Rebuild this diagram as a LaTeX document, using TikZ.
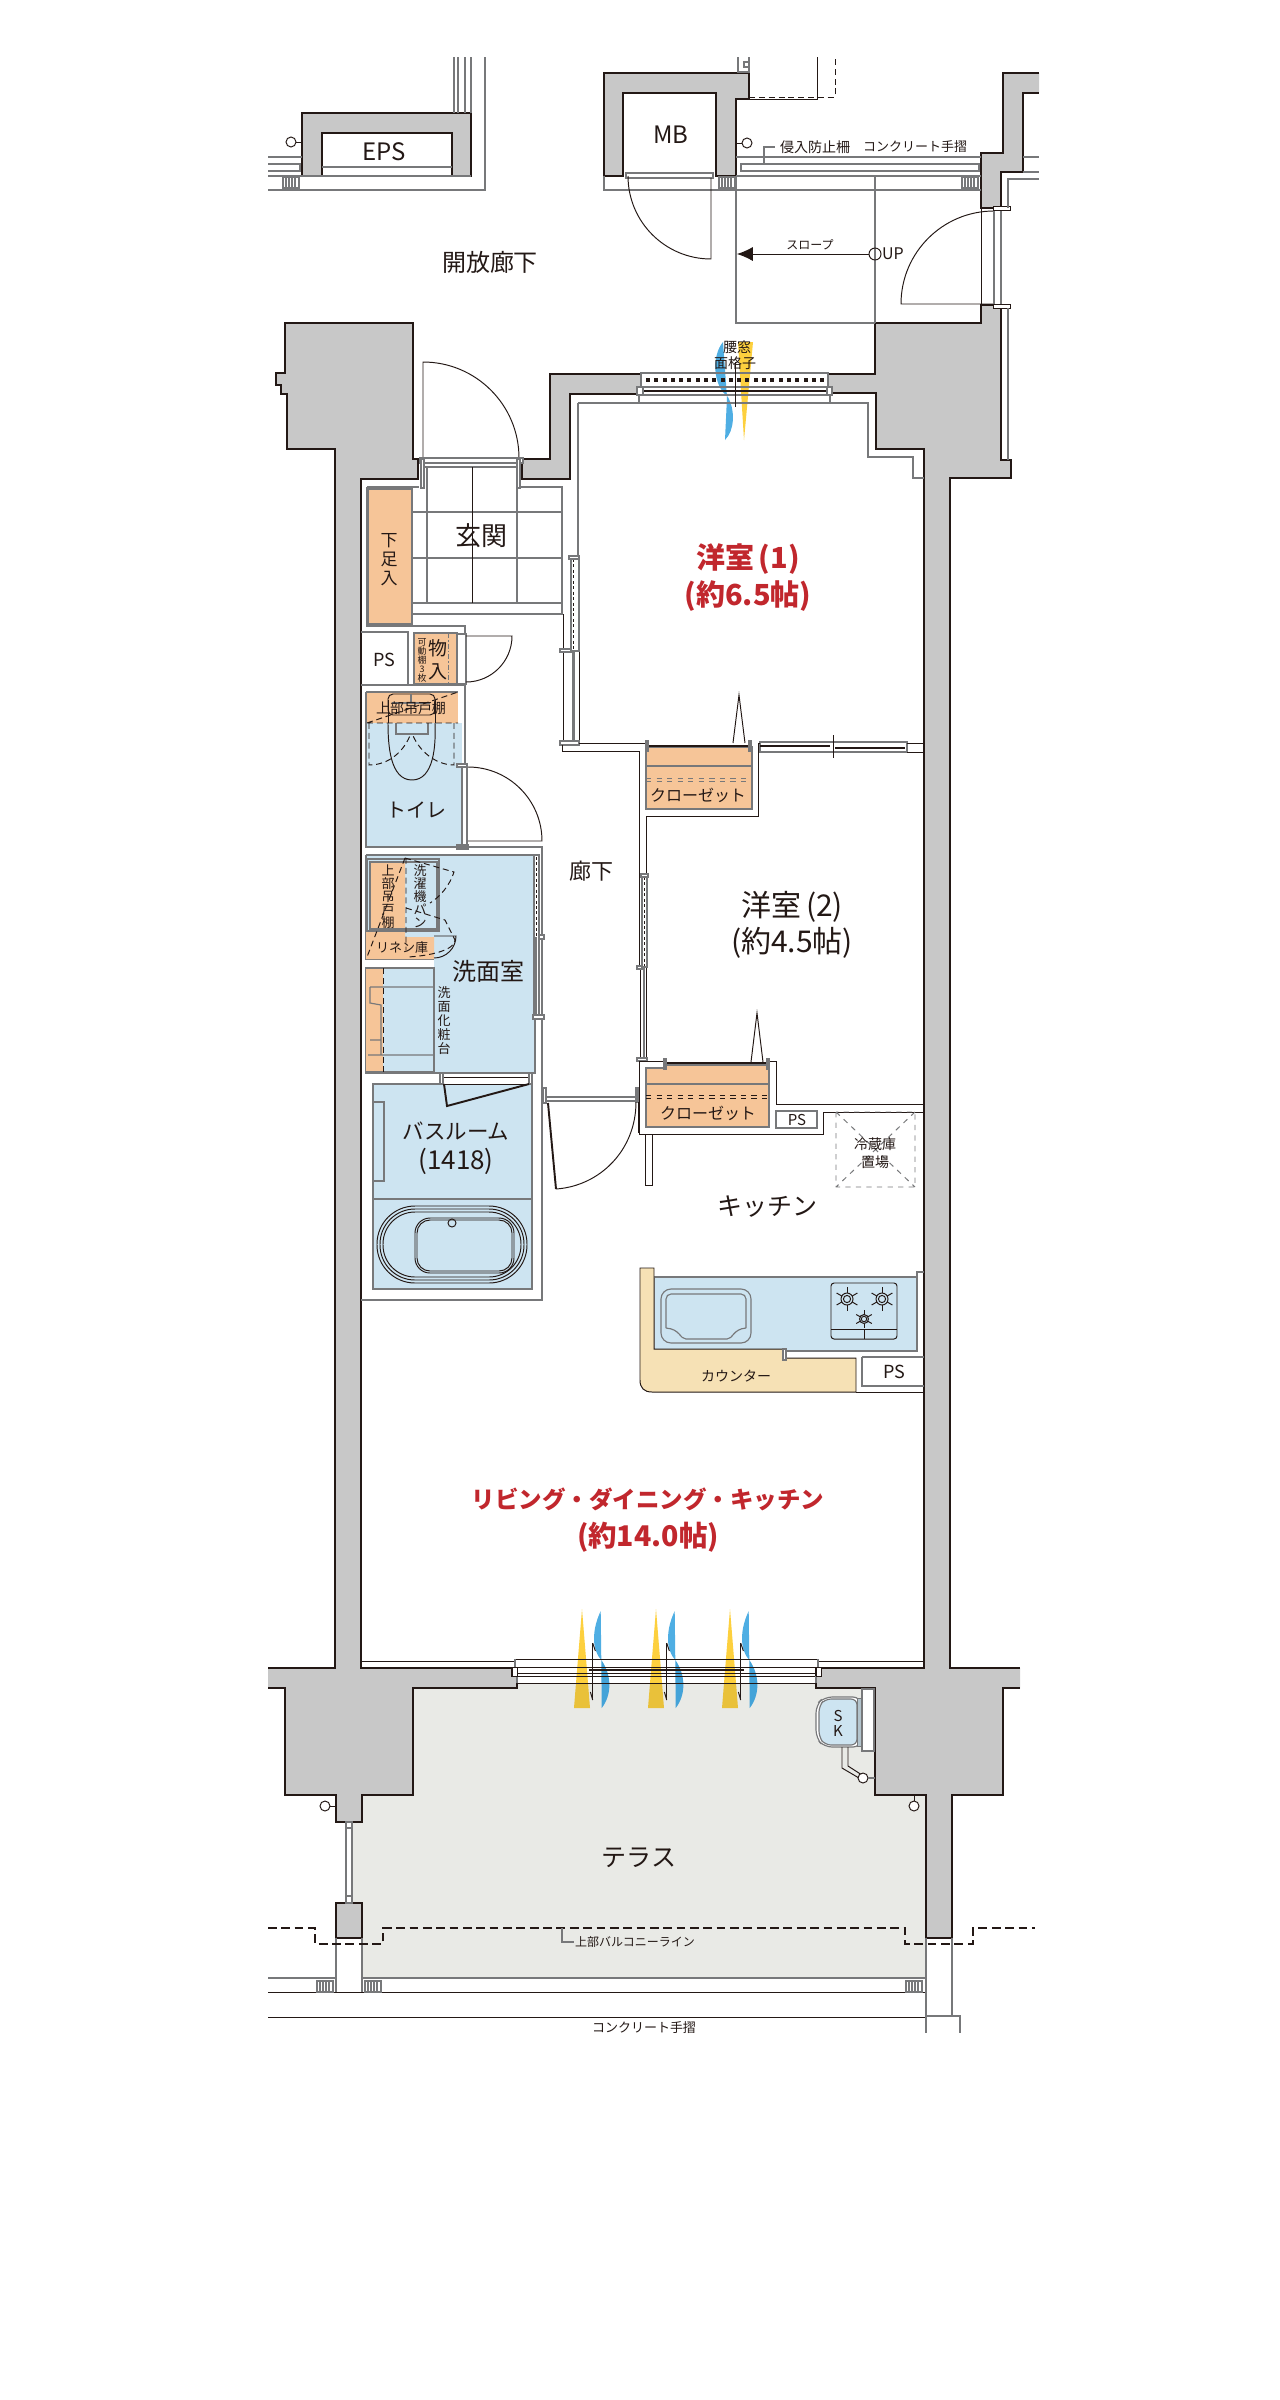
\documentclass[tikz,border=0pt]{standalone}
\usepackage{fontspec}
\setmainfont{Noto Sans CJK JP}
\usetikzlibrary{arrows.meta}
\definecolor{ink}{HTML}{231815}
\definecolor{wallgray}{HTML}{C8C8C8}
\definecolor{midgray}{HTML}{77787A}
\definecolor{wetblue}{HTML}{CDE4F1}
\definecolor{shelforange}{HTML}{F6C598}
\definecolor{counterpeach}{HTML}{F6E1B5}
\definecolor{terracegray}{HTML}{E9EAE6}
\definecolor{roomred}{HTML}{C1272D}
\definecolor{ventyellow}{HTML}{FDD03E}
\definecolor{ventyellowlow}{HTML}{E9C13A}
\definecolor{ventblue}{HTML}{4FAEE3}
\definecolor{ventbluelow}{HTML}{44A3D8}
\newcommand{\pxf}[2]{\fontsize{\fpeval{0.569*#1}}{\fpeval{0.569*#2}}\selectfont}
\tikzset{
	wall/.style={draw=ink, fill=wallgray, line width=1.3pt, line join=miter},
	wallside/.style={draw=ink, line width=1.3pt, line join=miter},
	heavy/.style={draw=ink, line width=1.1pt},
	fine/.style={draw=ink, line width=0.55pt},
	soft/.style={draw=midgray, line width=0.65pt},
	hidden/.style={draw=ink, line width=0.55pt, dash pattern=on 3.4pt off 2.2pt},
	balcline/.style={draw=ink, line width=0.6pt, dash pattern=on 5pt off 2.6pt},
	knob/.style={circle, draw=ink, fill=white, line width=0.55pt, minimum size=0.2cm, inner sep=0pt},
}
\newcommand{\railpost}[2]{%
	\draw[soft, fill=white] (#1,#2) rectangle ++(16,11);
	\foreach \k in {3,6,9,12}{\draw[soft] (#1+\k,#2) -- ++(0,11);}
}
\newcommand{\burner}[3]{%
	\draw[fine] (#1,#2) circle (#3*0.5) (#1,#2) circle (#3*0.3);
	\foreach \a in {30,90,150,210,270,330}{\draw[fine] ([shift={(#1,#2)}]\a:#3*0.5) -- ([shift={(#1,#2)}]\a:#3);}
}
\newcommand{\windmark}[1]{%
	\fill[ventyellow] (#1,1609) -- (#1-6,1683) -- (#1+6,1683) -- cycle;
	\fill[ventyellowlow] (#1-6,1683) -- (#1-8,1708) -- (#1+8,1708) -- (#1+6,1683) -- cycle;
	\fill[ventblue] (#1+18.7,1611) .. controls (#1+9.7,1630) and (#1+9.7,1650) .. (#1+19.3,1660) -- cycle;
	\fill[ventbluelow] (#1+19.3,1660) .. controls (#1+30,1675) and (#1+30,1695) .. (#1+19.7,1708) -- cycle;
}
\newcommand{\windmullion}[1]{%
	\draw[fine] (#1+10.7,1643) -- (#1+10.7,1700);
	\draw[fine] (#1+10.7,1643) -- (#1+13.4,1651) (#1+10.7,1700) -- (#1+8.4,1692);
}
\begin{document}
\begin{tikzpicture}[x=0.02cm, y=-0.02cm]
	\useasboundingbox[fill=white] (0,0) rectangle (1280,2400);

	\fill[terracegray] (517,1683) -- (816,1683) -- (816,1688) -- (875,1688) -- (875,1795) -- (926,1795) -- (926,1978) -- (362,1978) -- (362,1903) -- (352,1903) -- (352,1822) -- (362,1822) -- (362,1795) -- (413,1795) -- (413,1688) -- (517,1688) -- cycle;

	\fill[ventyellow] (738,342) -- (753,342) -- (744,440) -- cycle;
	\fill[ventblue] (723,342) .. controls (712,355) and (712,385) .. (728,397) .. controls (735,410) and (735,430) .. (725,440) -- (727,397) -- cycle;
	\foreach \vx in {582,656,730}{\windmark{\vx}}

	\draw[wall] (268,1668) -- (335,1668) -- (335,449) -- (287,449) -- (287,394) -- (281,394) -- (281,385) -- (276,385) -- (276,373) -- (285,373) -- (285,323) -- (413,323) -- (413,459) -- (418,459) -- (418,479) -- (361,479) -- (361,1668) -- (512,1668) -- (512,1676) -- (517,1676) -- (517,1688) -- (413,1688) -- (413,1795) -- (362,1795) -- (362,1822) -- (336,1822) -- (336,1795) -- (285,1795) -- (285,1688) -- (268,1688);
	\draw[wall] (641,394) -- (570,394) -- (570,479) -- (522,479) -- (522,459) -- (550,459) -- (550,374) -- (641,374);
	\fill[wallgray] (828,374) -- (875,374) -- (875,323) -- (981,323) -- (981,305) -- (1001,305) -- (1001,460) -- (1011,460) -- (1011,478) -- (950,478) -- (950,1668) -- (1020,1668) -- (1020,1688) -- (1003,1688) -- (1003,1795) -- (952,1795) -- (952,1938) -- (926,1938) -- (926,1795) -- (875,1795) -- (875,1688) -- (816,1688) -- (816,1668) -- (924,1668) -- (924,449) -- (876,449) -- (876,393) -- (828,393) -- cycle;
	\draw[wallside] (828,374) -- (875,374) -- (875,323) -- (981,323) -- (981,305) -- (1001,305) -- (1001,460) -- (1011,460) -- (1011,478) -- (950,478) -- (950,1668) -- (1020,1668);
	\draw[wallside] (1020,1688) -- (1003,1688) -- (1003,1795) -- (952,1795) -- (952,1938) -- (926,1938) -- (926,1795) -- (875,1795) -- (875,1688) -- (816,1688) -- (816,1668) -- (924,1668) -- (924,449) -- (876,449) -- (876,393) -- (828,393);
	\draw[wall] (1039,73) -- (1003,73) -- (1003,153) -- (981,153) -- (981,208) -- (1001,208) -- (1001,172) -- (1023,172) -- (1023,93) -- (1039,93);
	\draw[wall] (336,1903) rectangle (362,1938);
	\draw[wall] (302,176) -- (302,113) -- (471,113) -- (471,176) -- (452,176) -- (452,133) -- (322,133) -- (322,176) -- cycle;
	\draw[wall] (604,73) -- (749,73) -- (749,99) -- (736,99) -- (736,176) -- (716,176) -- (716,93) -- (623,93) -- (623,176) -- (604,176) -- cycle;

	\draw[soft] (454,57) -- (454,113) (458,57) -- (458,113) (465,57) -- (465,113);
	\draw[soft] (471,57) -- (471,113) (485,57) -- (485,190) -- (268,190);
	\draw[soft] (268,157) -- (302,157) (268,164) -- (300,164) -- (300,171) -- (268,171) (268,176) -- (471,176) (322,167) -- (452,167);
	\railpost{283}{177}
	\draw[soft] (738,57) -- (738,72) -- (749,72) -- (749,57) (744,62) rectangle (749,67);
	\draw[fine] (749,99) -- (817,99) -- (817,57);
	\draw[hidden] (749,97) -- (835,97) -- (835,57);
	\draw[soft] (604,176) -- (604,190) -- (981,190);
	\draw[soft] (736,157) -- (981,157) (741,164) rectangle (979,171) (736,176) -- (981,176);
	\railpost{719}{177}
	\railpost{962}{177}
	\draw[soft] (875,176) -- (875,323);
	\draw[soft] (736,176) -- (736,323) -- (875,323);
	\draw[soft, fill=white] (626,173) rectangle (713,178);
	\draw[fine] (711,178) -- (711,259) arc[start angle=90, end angle=180, radius=83];

	\node[knob] (knobeps) at (291,142) {};
	\node[knob] (knobmb) at (747,143) {};
	\coordinate (epsstub) at (302,142);
	\coordinate (mbstub) at (736,143);
	\draw[fine] (knobeps) -- (epsstub);
	\draw[fine] (knobmb) -- (mbstub);
	\node[knob, minimum size=0.24cm, fill=none] (rampup) at (875,254) {};
	\coordinate (rampdown) at (737,254);
	\draw[fine, -{Latex[length=9pt, width=8pt]}] (rampup) -- (rampdown);
	\coordinate (fenceend) at (775,147);
	\draw[soft] (764,164) -- (764,147) -- (fenceend);

	\draw[fine] (981,208) -- (981,305);
	\draw[heavy] (981,305) -- (994,305) (981,208) -- (994,208);
	\draw[fine] (994,304) -- (901,304) arc[start angle=180, end angle=270, radius=93];
	\draw[soft, fill=white] (994,207) rectangle (1001,308);
	\draw[fine, fill=white] (993,206) rectangle (1010,210) (993,304) rectangle (1010,308);
	\draw[soft] (1008,208) -- (1008,179) -- (1039,179) (1023,157) -- (1039,157) (1023,172) -- (1039,172) (1008,308) -- (1008,460);

	\draw[fine] (423,458) -- (423,362) arc[start angle=-90, end angle=0, radius=96];
	\draw[soft, fill=white] (420,458) rectangle (523,463);
	\draw[soft] (423,463) -- (423,467) -- (518,467) -- (518,463);
	\draw[soft, fill=white] (421,459) rectangle (424,488) (517,459) rectangle (520,488);

	\draw[soft] (578,403) -- (578,557) (578,403) -- (641,403) (828,403) -- (868,403) -- (868,457) -- (913,457) -- (913,478) -- (924,478);
	\draw[soft] (367,487) -- (419,487) (520,487) -- (562,487) -- (562,614) -- (412,614);
	\draw[soft] (427,467) -- (427,603) (517,467) -- (517,603) (412,512) -- (562,512) (412,558) -- (562,558) (412,603) -- (562,603);
	\draw[fine] (472,467) -- (472,603);
	\draw[soft, fill=shelforange, line width=1.1pt] (368,489) rectangle (412,624);
	\draw[soft] (367,487) -- (367,626) -- (465,626) -- (465,847) (361,632) -- (408,632) -- (408,685) -- (361,685);
	\draw[soft, fill=shelforange] (414,633) rectangle (457,684);
	\draw[midgray, line width=0.5pt, dash pattern=on 3pt off 1pt on 1pt off 1pt] (448,633) -- (448,684);
	\draw[soft, fill=white] (457,634) rectangle (466,684);
	\draw[fine] (466,636) -- (512,636) arc[start angle=0, end angle=90, radius=46];
	\draw[soft] (361,685) -- (465,685);

	\fill[shelforange] (366,692) rectangle (458,723);
	\fill[wetblue] (366,723) rectangle (462,847);
	\draw[soft] (366,692) -- (458,692) (366,692) -- (366,847) -- (462,847) -- (462,765);
	\draw[fine] (388,723) .. controls (388,745) and (390,780) .. (412,780) .. controls (434,780) and (436,745) .. (435,723);
	\draw[fine] (388,700) -- (388,723) (435,700) -- (435,723);
	\draw[fine, rounded corners=0.1cm] (388,715) -- (388,694) -- (435,694) -- (435,715) -- cycle;
	\draw[soft] (396,723) -- (396,734) -- (428,734) -- (428,723) (411,694) -- (411,703) (392,703) -- (430,703);
	\draw[hidden] (367,723) -- (458,692) (367,723) -- (458,723) (369,723) -- (369,765) .. controls (390,765) and (405,750) .. (411,733) (454,723) -- (454,765) .. controls (435,765) and (418,750) .. (412,733);
	\draw[soft, fill=white] (462,766) rectangle (467,847);
	\draw[soft, fill=white] (457,764) rectangle (467,767) (457,845) rectangle (468,849);
	\draw[fine] (468,767) arc[start angle=-90, end angle=0, radius=74] -- (468,841);

	\draw[soft] (366,847) -- (542,847) -- (542,1300) -- (361,1300);
	\fill[wetblue] (366,855) rectangle (535,1073);
	\fill[white] (366,959) rectangle (434,968);
	\draw[soft] (366,855) -- (535,855) -- (535,1073) -- (366,1073) -- (366,968) -- (434,968) -- (434,1073);
	\draw[soft] (366,855) -- (366,959) -- (434,959);
	\fill[shelforange] (366,931) rectangle (405,937) (370,862) rectangle (405,929) (366,937) rectangle (434,959);
	\draw[soft, line width=1pt] (367,859) rectangle (439,931);
	\draw[soft] (370,862) rectangle (437,929);
	\draw[fine] (434,936) -- (456,936) arc[start angle=0, end angle=90, radius=22];
	\draw[hidden] (406,858) -- (406,950) (405,858) -- (367,957) (405,858) -- (454,872) .. controls (450,885) and (440,897) .. (430,903) (406,908) -- (445,920) -- (455,940) .. controls (455,950) and (430,956) .. (407,957);
	\fill[shelforange] (366,968) rectangle (383,1072);
	\draw[midgray, line width=1pt] (366,968) -- (434,968) (366,1072) -- (434,1072);
	\draw[hidden] (383,968) -- (383,1072);
	\draw[soft] (370,987) -- (433,987) (368,1055) -- (433,1055) (370,987) -- (370,1003) -- (381,1005) -- (381,1055) (370,1040) -- (381,1040);
	\draw[soft, fill=white] (534,855) rectangle (539,1018);
	\draw[ink, line width=0.8pt, dash pattern=on 1.7pt off 1.4pt] (536.5,857) -- (536.5,937);
	\draw[midgray, line width=1.6pt] (535.5,937) -- (535.5,1017);
	\draw[soft, fill=white] (539,935) rectangle (544,939) (533,1015) rectangle (544,1019);

	\draw[soft, fill=wetblue] (373,1084) rectangle (532,1289);
	\draw[soft] (373,1199) -- (532,1199) (373,1102) rectangle (384,1181);
	\draw[fine, fill=white] (442,1077) rectangle (532,1084);
	\draw[soft, fill=white] (440,1073) rectangle (443,1084) (529,1073) rectangle (532,1084);
	\draw[heavy] (444,1084) -- (447,1106) -- (529,1084);
	\draw[fine, rounded corners=0.76cm] (377,1206) rectangle (527,1283);
	\draw[fine, rounded corners=0.7cm] (380,1209) rectangle (524,1280);
	\draw[fine, rounded corners=0.64cm] (383,1212) rectangle (521,1277);
	\draw[fine, rounded corners=0.3cm] (415,1218) rectangle (514,1273);
	\draw[fine, rounded corners=0.26cm] (417,1220) rectangle (512,1271);
	\draw[fine] (452,1223) circle (4);

	\draw[fine] (563,614) -- (563,741);
	\draw[soft, fill=white] (571,557) rectangle (579,651);
	\draw[ink, line width=0.8pt, dash pattern=on 1.7pt off 1.4pt] (573.5,559) -- (573.5,650);
	\draw[soft, fill=white] (569,556) rectangle (579,559) (560,649) rectangle (571,652);
	\draw[midgray, line width=1.6pt] (573.5,652) -- (573.5,741);
	\draw[fine] (579,652) -- (579,741);
	\draw[soft, fill=white] (560,741) rectangle (579,745);

	\draw[fine] (579,743) -- (646,743) (562,745) -- (562,751) -- (639,751) -- (639,875) (758,743) -- (758,816) -- (646,816) -- (646,875);
	\draw[soft, fill=shelforange] (646,747) rectangle (752,809);
	\draw[soft] (646,766) -- (752,766);
	\draw[midgray, dashed, line width=0.5pt] (646,778) -- (752,778) (646,781) -- (752,781);
	\draw[fine] (733,743) -- (739,695) -- (745,743);
	\draw[heavy] (647,746) -- (750,746);
	\draw[soft, fill=white] (646,741) rectangle (648,751) (749,741) rectangle (751,751);
	\draw[soft, fill=white] (760,742) rectangle (907,752);
	\draw[heavy] (760,746) -- (830,746) (835,748) -- (905,748);
	\draw[fine] (833,735) -- (833,758);
	\draw[fine] (907,743) -- (924,743) (907,752) -- (924,752) (758,743) -- (760,743);

	\draw[fine] (639,875) -- (639,967) (646,875) -- (646,1059);
	\draw[soft, fill=white] (642,875) rectangle (647,967);
	\draw[ink, line width=0.8pt, dash pattern=on 1.7pt off 1.4pt] (644.5,877) -- (644.5,966);
	\draw[midgray, line width=1.6pt] (644,968) -- (644,1059);
	\draw[fine] (640,968) -- (640,1059);
	\draw[soft, fill=white] (641,874) rectangle (648,877) (637,966) rectangle (642,969) (637,1058) rectangle (647,1061);

	\draw[fine] (639,1061) -- (664,1061) (768,1061) -- (776,1061) -- (776,1104) -- (924,1104) (639,1061) -- (639,1134) -- (823,1134) -- (823,1112) -- (924,1112) (645,1134) -- (645,1185) -- (652,1185) -- (652,1134);
	\draw[soft, fill=shelforange] (646,1068) -- (664,1068) -- (664,1065) -- (769,1065) -- (769,1127) -- (646,1127) -- cycle;
	\draw[soft] (646,1084) -- (769,1084);
	\draw[ink, dashed, line width=0.45pt] (646,1095) -- (769,1095) (646,1098) -- (769,1098);
	\draw[fine] (751,1062) -- (757,1013) -- (763,1062);
	\draw[heavy] (665,1063) -- (768,1063);
	\draw[soft, fill=white] (664,1059) rectangle (666,1069) (767,1059) rectangle (769,1069);
	\draw[soft] (776,1111) rectangle (817,1128);
	\draw[midgray, dashed, line width=0.55pt] (836,1112) rectangle (915,1187) (836,1112) -- (915,1187) (915,1112) -- (836,1187);

	\draw[soft, fill=white] (544,1097) rectangle (637,1101);
	\draw[soft, fill=white] (543,1088) rectangle (546,1103) (636,1088) rectangle (638,1102);
	\draw[heavy] (548,1103) -- (556,1189);
	\draw[fine] (556,1189) .. controls (600,1186) and (636,1150) .. (636,1102);
	\draw[fine] (638,1102) -- (638,1133);

	\draw[soft] (917,1351) -- (917,1272) -- (924,1272);
	\draw[soft, line width=1.1pt, fill=wetblue] (654,1277) -- (917,1277) -- (917,1351) -- (654,1351) -- cycle;
	\draw[fine, fill=counterpeach] (640,1268) -- (654,1268) -- (654,1349) -- (783,1349) -- (783,1358) -- (856,1358) -- (856,1392) -- (652,1392) .. controls (644,1392) and (640,1388) .. (640,1380) -- cycle;
	\draw[soft, fill=white] (783,1349) rectangle (786,1360);
	\draw[fine] (856,1392) -- (924,1392);
	\draw[soft] (862,1357) -- (924,1357) (862,1357) -- (862,1386) -- (924,1386);
	\draw[soft, rounded corners=0.2cm] (661,1289) rectangle (751,1343);
	\draw[soft, rounded corners=0.1cm] (666,1328) -- (666,1294) -- (746,1294) -- (746,1328);
	\draw[soft] (666,1328) .. controls (680,1329) and (680,1339) .. (686,1339) -- (727,1339) .. controls (733,1339) and (733,1329) .. (746,1328);
	\draw[fine, rounded corners=0.06cm] (831,1283) rectangle (897,1339);
	\draw[fine] (831,1329) -- (897,1329) (864,1329) -- (864,1339);
	\burner{847}{1299}{12}
	\burner{882}{1299}{12}
	\burner{864}{1319}{9}

	\draw[fine] (361,1661) -- (515,1661) (818,1661) -- (924,1661);
	\draw[fine] (515,1659) -- (818,1659) (517,1667) -- (816,1667) (517,1673) -- (816,1673) (517,1676) -- (816,1676) (517,1683) -- (816,1683);
	\draw[soft] (515,1659) -- (515,1667) (818,1659) -- (818,1667) (517,1676) -- (517,1683) (816,1676) -- (816,1683);
	\draw[heavy] (589,1670) -- (744,1670);
	\draw[fine, fill=white] (512,1667) rectangle (517,1676) (816,1667) rectangle (821,1676);
	\foreach \vx in {582,656,730}{\windmullion{\vx}}

	\draw[soft] (641,373) rectangle (828,387) (639,395) rectangle (830,403);
	\foreach \i in {0,...,21}{\fill[ink] ({648+8.29*\i-2},378) rectangle ++(4,4);}
	\draw[heavy] (641,391) -- (828,391);
	\draw[soft, fill=white] (637,387) rectangle (643,395) (827,387) rectangle (832,395);
	\draw[fine] (735,362) -- (735,407) (731,391) -- (739,391);

	\draw[soft, fill=white] (346,1822) rectangle (352,1903);
	\draw[soft] (346,1828) -- (352,1828) (346,1896) -- (352,1896);
	\draw[soft] (268,1978) -- (336,1978) (362,1978) -- (926,1978);
	\draw[fine] (268,1992) -- (926,1992) (268,2017) -- (926,2017);
	\draw[soft] (336,1938) -- (336,1992) (362,1938) -- (362,1992) (926,1938) -- (926,2033) (952,1938) -- (952,2016) -- (926,2016) (952,2016) -- (960,2016) -- (960,2033);
	\railpost{317}{1981}
	\railpost{365}{1981}
	\railpost{906}{1981}
	\draw[balcline] (268,1928) -- (315,1928) -- (315,1944) -- (383,1944) -- (383,1928) -- (905,1928) -- (905,1944) -- (973,1944) -- (973,1928) -- (1035,1928);
	\coordinate (balcleader) at (574,1942);
	\draw[soft] (562,1928) -- (562,1942) -- (balcleader);

	\node[knob] (knobleft) at (325,1806) {};
	\node[knob] (knobright) at (914,1806) {};
	\coordinate (leftstub) at (336,1806);
	\coordinate (rightstub) at (914,1795);
	\draw[fine] (knobleft) -- (leftstub);
	\draw[fine] (knobright) -- (rightstub);
	\draw[soft, fill=white] (862,1689) rectangle (874,1751);
	\draw[soft, rounded corners=0.16cm, fill=white] (861,1697) -- (824,1697) -- (816,1705) -- (816,1738) -- (824,1747) -- (861,1747) -- cycle;
	\draw[soft, rounded corners=0.12cm, fill=wetblue] (857,1699) -- (825,1699) -- (819,1706) -- (819,1737) -- (825,1745) -- (857,1745) -- cycle;
	\draw[midgray, fill=wetblue!70!midgray, line width=0.4pt] (857,1698) rectangle (861,1746);
	\draw[fine] (842,1747) -- (842,1768) -- (859,1778) (848,1747) -- (848,1766) -- (862,1775);
	\node[knob] (knobsink) at (863,1778) {};
	\coordinate (sinkstub) at (875,1778);
	\draw[soft] (knobsink) -- (sinkstub);

	\begin{scope}
		\tikzstyle{every node}=[align=center, inner sep=0pt, text=ink]
		\node[font=\pxf{24}{28}] (eps) at (384,152) {EPS};
		\node[font=\pxf{24}{28}] (mb) at (671,135) {MB};
		\node[font=\pxf{24}{28}] (corridor) at (490,262) {開放廊下};
		\node[font=\pxf{14}{16}] (fence) at (815,147) {侵入防止柵};
		\node[font=\pxf{13}{16}] (railtop) at (915,147) {コンクリート手摺};
		\node[font=\pxf{12}{14}] (slope) at (810,245) {スロープ};
		\node[font=\pxf{16}{18}] (up) at (893,254) {UP};
		\node[font=\pxf{14}{16}] (koshi) at (737,347) {腰窓};
		\node[font=\pxf{14}{16}] (lattice) at (735,363) {面格子};
		\node[font=\bfseries\pxf{29}{37}, text=roomred] (room1) at (748,578) {洋室\,(1)\\(約6.5帖)};
		\node[font=\pxf{26}{30}] (genkan) at (481,536) {玄関};
		\node[font=\pxf{17}{19}] (shoes) at (389,560) {下\\足\\入};
		\node[font=\pxf{18}{20}] (ps1) at (384,660) {PS};
		\node[font=\pxf{9}{9}] (shelves) at (422,660) {可\\動\\棚\\3\\枚};
		\node[font=\pxf{19}{23}] (storage) at (438,660) {物\\入};
		\node[font=\pxf{14}{16}] (upper1) at (411,708) {上部吊戸棚};
		\node[font=\pxf{20}{24}] (toilet) at (416,810) {トイレ};
		\node[font=\pxf{13}{13}] (upper2) at (388,897) {上\\部\\吊\\戸\\棚};
		\node[font=\pxf{13}{13}] (pan) at (420,896) {洗\\濯\\機\\パ\\ン};
		\node[font=\pxf{13}{16}] (linen) at (402,948) {リネン庫};
		\node[font=\pxf{24}{28}] (washroom) at (488,971) {洗面室};
		\node[font=\pxf{13}{14}] (vanity) at (444,1021) {洗\\面\\化\\粧\\台};
		\node[font=\pxf{21.5}{30}] (bath) at (456,1148) {バスルーム\\{\pxf{26}{30}(1418)}};
		\node[font=\pxf{22}{26}] (hall) at (591,871) {廊下};
		\node[font=\pxf{16}{18}] (closet1) at (698,795) {クローゼット};
		\node[font=\pxf{30}{36}] (room2) at (792,925) {洋室\,(2)\\(約4.5帖)};
		\node[font=\pxf{16}{18}] (closet2) at (708,1113) {クローゼット};
		\node[font=\pxf{15}{17}] (ps2) at (797,1120) {PS};
		\node[font=\pxf{14}{18}] (fridge) at (875,1153) {冷蔵庫\\置場};
		\node[font=\pxf{25}{28}] (kitchen) at (767,1207) {キッチン};
		\node[font=\pxf{14}{16}] (counter) at (736,1376) {カウンター};
		\node[font=\pxf{18}{20}] (ps3) at (894,1372) {PS};
		\node[font=\bfseries\pxf{23.5}{37}, text=roomred] (ldk) at (648,1520) {リビング・ダイニング・キッチン\\[1pt]{\pxf{28.5}{37}(約14.0帖)}};
		\node[font=\pxf{15}{15}] (sk) at (838,1723) {S\\K};
		\node[font=\pxf{25}{28}] (terrace) at (639,1858) {テラス};
		\node[font=\pxf{12}{14}] (balcony) at (635,1942) {上部バルコニーライン};
		\node[font=\pxf{13}{16}] (railbottom) at (644,2028) {コンクリート手摺};
	\end{scope}
\end{tikzpicture}
\end{document}
